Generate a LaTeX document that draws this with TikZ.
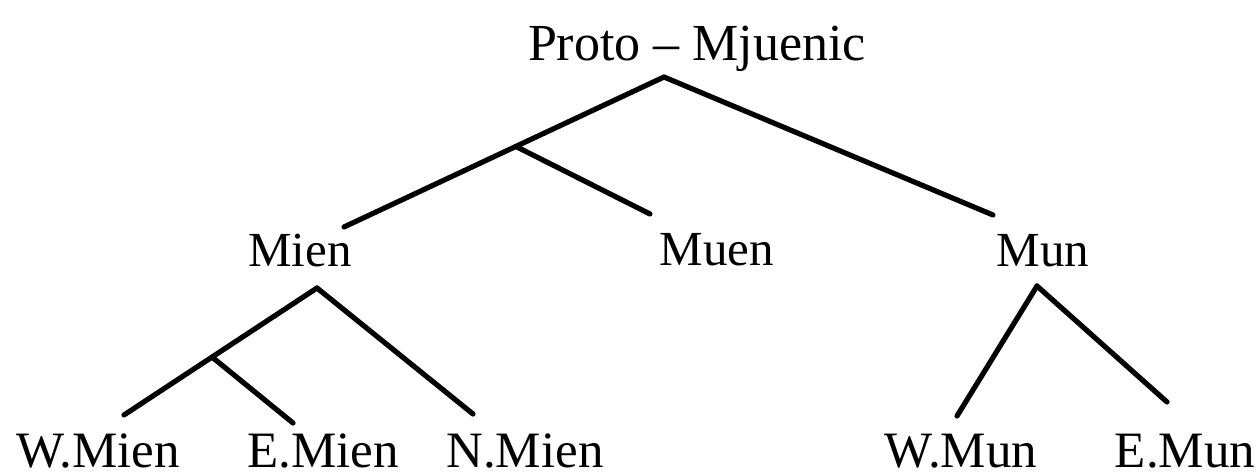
\documentclass[tikz,border=0pt]{standalone}
\usepackage{fontspec}
\setmainfont{Liberation Serif}
\begin{document}
\begin{tikzpicture}[x=0.5pt,y=-0.5pt,
  lbl/.style={anchor=base,inner sep=0pt,text depth=0pt,font=\fontsize{24.5}{28}\selectfont},
  toplbl/.style={lbl,font=\fontsize{26}{30}\selectfont},
  leaf/.style={lbl,font=\fontsize{25.5}{30}\selectfont},
  branch/.style={line width=2.6pt,line cap=round}]
\useasboundingbox (0,0) rectangle (1260,476);
% labels
\node[toplbl] (proto) at (697,61) {Proto – Mjuenic};
\node[lbl] (mien) at (300,266) {Mien};
\node[lbl] (muen) at (717,265) {Muen};
\node[lbl] (mun) at (1043,267) {Mun};
\node[leaf] (wmien) at (98,467) {W.Mien};
\node[leaf] (emien) at (323,467) {E.Mien};
\node[leaf] (nmien) at (525,467) {N.Mien};
\node[leaf] (wmun) at (961,467) {W.Mun};
\node[leaf] (emun) at (1185,467) {E.Mun};
% branch points
\coordinate (a0) at (664,77);
\coordinate (j0) at (517,147);
\coordinate (eMien) at (344,227);
\coordinate (eMuen) at (650,214);
\coordinate (eMun) at (993,215);
\coordinate (a1) at (317,288);
\coordinate (j1) at (212,357);
\coordinate (eW) at (124,415);
\coordinate (eE) at (293,423);
\coordinate (eN) at (473,414);
\coordinate (a2) at (1037,286);
\coordinate (eWM) at (957,416);
\coordinate (eEM) at (1167,402);
% connectors
\draw[branch] (a0) -- (eMien);
\draw[branch] (j0) -- (eMuen);
\draw[branch] (a0) -- (eMun);
\draw[branch] (a1) -- (eW);
\draw[branch] (j1) -- (eE);
\draw[branch] (a1) -- (eN);
\draw[branch] (a2) -- (eWM);
\draw[branch] (a2) -- (eEM);
\end{tikzpicture}
\end{document}
